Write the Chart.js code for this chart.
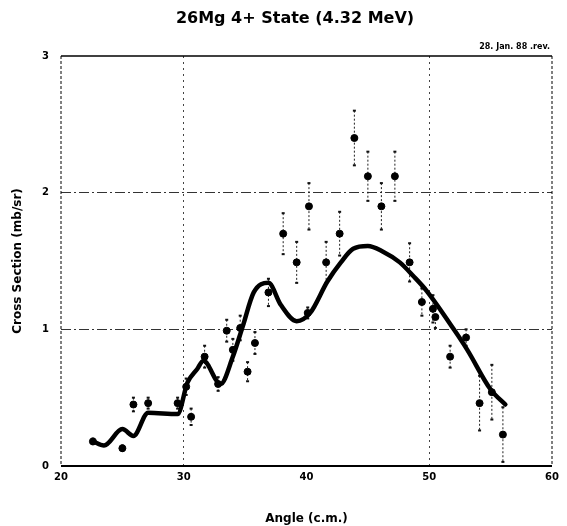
<!DOCTYPE html>
<html>
<head>
<meta charset="utf-8">
<script src="https://cdn.jsdelivr.net/npm/chart.js@4/dist/chart.umd.min.js"></script>
<style>
  html, body { margin: 0; padding: 0; background: #fff; }
  #wrap { width: 567px; height: 526px; }
</style>
</head>
<body>
<div id="wrap"><canvas id="chart" width="567" height="526"></canvas></div>
<script>
// measured cross sections (angle c.m. in degrees, mb/sr)
const angles = [22.6, 25.0, 25.9, 27.1, 29.5, 30.2, 30.6, 31.7, 32.8, 33.5, 34.0, 34.6, 35.2, 35.8,
  36.9, 38.1, 39.2, 40.1, 40.2, 41.6, 42.7, 43.9, 45.0, 46.1, 47.2, 48.4, 49.4, 50.3, 50.5,
  51.7, 53.0, 54.1, 55.1, 56.0];
const sigma = [0.18, 0.13, 0.45, 0.46, 0.46, 0.58, 0.36, 0.80, 0.60, 0.99, 0.85, 1.01, 0.69, 0.90,
  1.27, 1.70, 1.49, 1.12, 1.90, 1.49, 1.70, 2.40, 2.12, 1.90, 2.12, 1.49, 1.20, 1.15, 1.09,
  0.80, 0.94, 0.46, 0.54, 0.23];
const errors = [0.02, 0.02, 0.05, 0.04, 0.04, 0.06, 0.06, 0.08, 0.05, 0.08, 0.08, 0.09, 0.07, 0.08,
  0.10, 0.15, 0.15, 0.04, 0.17, 0.15, 0.16, 0.20, 0.18, 0.17, 0.18, 0.14, 0.10, 0.10, 0.08,
  0.08, 0.06, 0.20, 0.20, 0.20];

// calculated curve
const fitAngles = [22.6, 23.5, 25.0, 25.9, 27.1, 29.5, 30.3, 31.1, 31.6, 33.0, 34.0, 34.8, 35.7,
  36.9, 37.9, 39.2, 40.3, 41.7, 42.8, 43.8, 45.0, 46.2, 47.6, 48.7, 49.8, 52.0, 53.1,
  55.0, 56.2];
const fitValues = [0.18, 0.15, 0.27, 0.22, 0.39, 0.38, 0.61, 0.71, 0.77, 0.60, 0.80, 1.02, 1.27,
  1.34, 1.18, 1.06, 1.12, 1.35, 1.49, 1.59, 1.61, 1.57, 1.49, 1.39, 1.28, 1.00, 0.85,
  0.56, 0.45];

const xTicks = [20, 30, 40, 50, 60];
const yTicks = [0, 1, 2, 3];

const chartTitle = '26Mg 4+ State (4.32 MeV)';
const xTitle = 'Angle (c.m.)';
const yTitle = 'Cross Section (mb/sr)';
const stamp = '28. Jan. 88 .rev.';

const FONT = '"DejaVu Sans", Verdana, sans-serif';

const points = angles.map((a, i) => ({ x: a, y: sigma[i] }));
const curve = fitAngles.map((a, i) => ({ x: a, y: fitValues[i] }));

// error bars, frame, title and date stamp
const extras = {
  id: 'extras',
  beforeDatasetsDraw(chart) {
    const { ctx, scales: { x, y } } = chart;
    ctx.save();
    ctx.strokeStyle = '#222';
    ctx.fillStyle = '#111';
    ctx.lineWidth = 1;
    angles.forEach((a, i) => {
      const px = x.getPixelForValue(a);
      const top = y.getPixelForValue(sigma[i] + errors[i]);
      const bot = y.getPixelForValue(sigma[i] - errors[i]);
      ctx.setLineDash([2, 2]);
      ctx.beginPath();
      ctx.moveTo(px, top);
      ctx.lineTo(px, bot);
      ctx.stroke();
      ctx.setLineDash([]);
      ctx.fillRect(px - 1.5, top - 1, 3, 2);
      ctx.fillRect(px - 1.5, bot - 1, 3, 2);
    });
    ctx.restore();
  },
  afterDraw(chart) {
    const { ctx, chartArea: c } = chart;
    ctx.save();
    ctx.strokeStyle = '#000';
    ctx.lineWidth = 1.5;
    ctx.beginPath();
    ctx.moveTo(c.left, c.top);
    ctx.lineTo(c.right, c.top);
    ctx.stroke();
    ctx.lineWidth = 2;
    ctx.beginPath();
    ctx.moveTo(c.left, c.bottom);
    ctx.lineTo(c.right, c.bottom);
    ctx.stroke();
    ctx.lineWidth = 1;
    ctx.setLineDash([3, 2]);
    ctx.beginPath();
    ctx.moveTo(c.left, c.top);
    ctx.lineTo(c.left, c.bottom);
    ctx.moveTo(c.right, c.top);
    ctx.lineTo(c.right, c.bottom);
    ctx.stroke();
    ctx.setLineDash([]);
    ctx.fillStyle = '#000';
    ctx.textAlign = 'center';
    ctx.textBaseline = 'middle';
    ctx.font = 'bold 16px ' + FONT;
    ctx.fillText(chartTitle, 295, 19);
    ctx.font = 'bold 8px ' + FONT;
    ctx.textAlign = 'right';
    ctx.textBaseline = 'bottom';
    ctx.fillText(stamp, c.right - 2, c.top - 5);
    ctx.restore();
  }
};

const tickFont = { family: FONT, size: 10, weight: 'bold' };
const titleFont = { family: FONT, size: 12, weight: 'bold' };

new Chart(document.getElementById('chart').getContext('2d'), {
  type: 'scatter',
  data: {
    datasets: [
      {
        label: 'fit',
        data: curve,
        showLine: true,
        borderColor: '#000',
        borderWidth: 4.5,
        borderJoinStyle: 'round',
        borderCapStyle: 'round',
        pointRadius: 0,
        cubicInterpolationMode: 'monotone',
        order: 2
      },
      {
        label: 'data',
        data: points,
        backgroundColor: '#000',
        borderColor: '#000',
        pointRadius: 3.5,
        pointStyle: 'circle',
        order: 1
      }
    ]
  },
  options: {
    responsive: false,
    animation: false,
    devicePixelRatio: 1,
    layout: { padding: { left: 0, right: 15, top: 56, bottom: 0 } },
    plugins: {
      legend: { display: false },
      tooltip: { enabled: false },
      title: { display: false }
    },
    scales: {
      x: {
        type: 'linear',
        min: 20,
        max: 60,
        afterBuildTicks: s => { s.ticks = xTicks.map(v => ({ value: v })); },
        afterFit: s => { s.height = 60; },
        ticks: { color: '#000', font: tickFont, padding: 5 },
        grid: {
          color: ctx => (ctx.tick && (ctx.tick.value === 30 || ctx.tick.value === 50)) ? '#444' : 'rgba(0,0,0,0)',
          lineWidth: 1,
          drawTicks: false
        },
        border: { display: false, dash: [2, 4] },
        title: { display: true, text: xTitle, color: '#000', font: titleFont, padding: { top: 0, bottom: 0 } }
      },
      y: {
        type: 'linear',
        min: 0,
        max: 3,
        afterBuildTicks: s => { s.ticks = yTicks.map(v => ({ value: v })); },
        afterFit: s => { s.width = 61; },
        ticks: { color: '#000', font: tickFont, padding: 12 },
        grid: {
          color: ctx => (ctx.tick && (ctx.tick.value === 1 || ctx.tick.value === 2)) ? '#333' : 'rgba(0,0,0,0)',
          lineWidth: 1,
          drawTicks: false
        },
        border: { display: false, dash: [10, 3, 2, 3] },
        title: { display: true, text: yTitle, color: '#000', font: titleFont, padding: { top: 11, bottom: 0 } }
      }
    }
  },
  plugins: [extras]
});
</script>
</body>
</html>
